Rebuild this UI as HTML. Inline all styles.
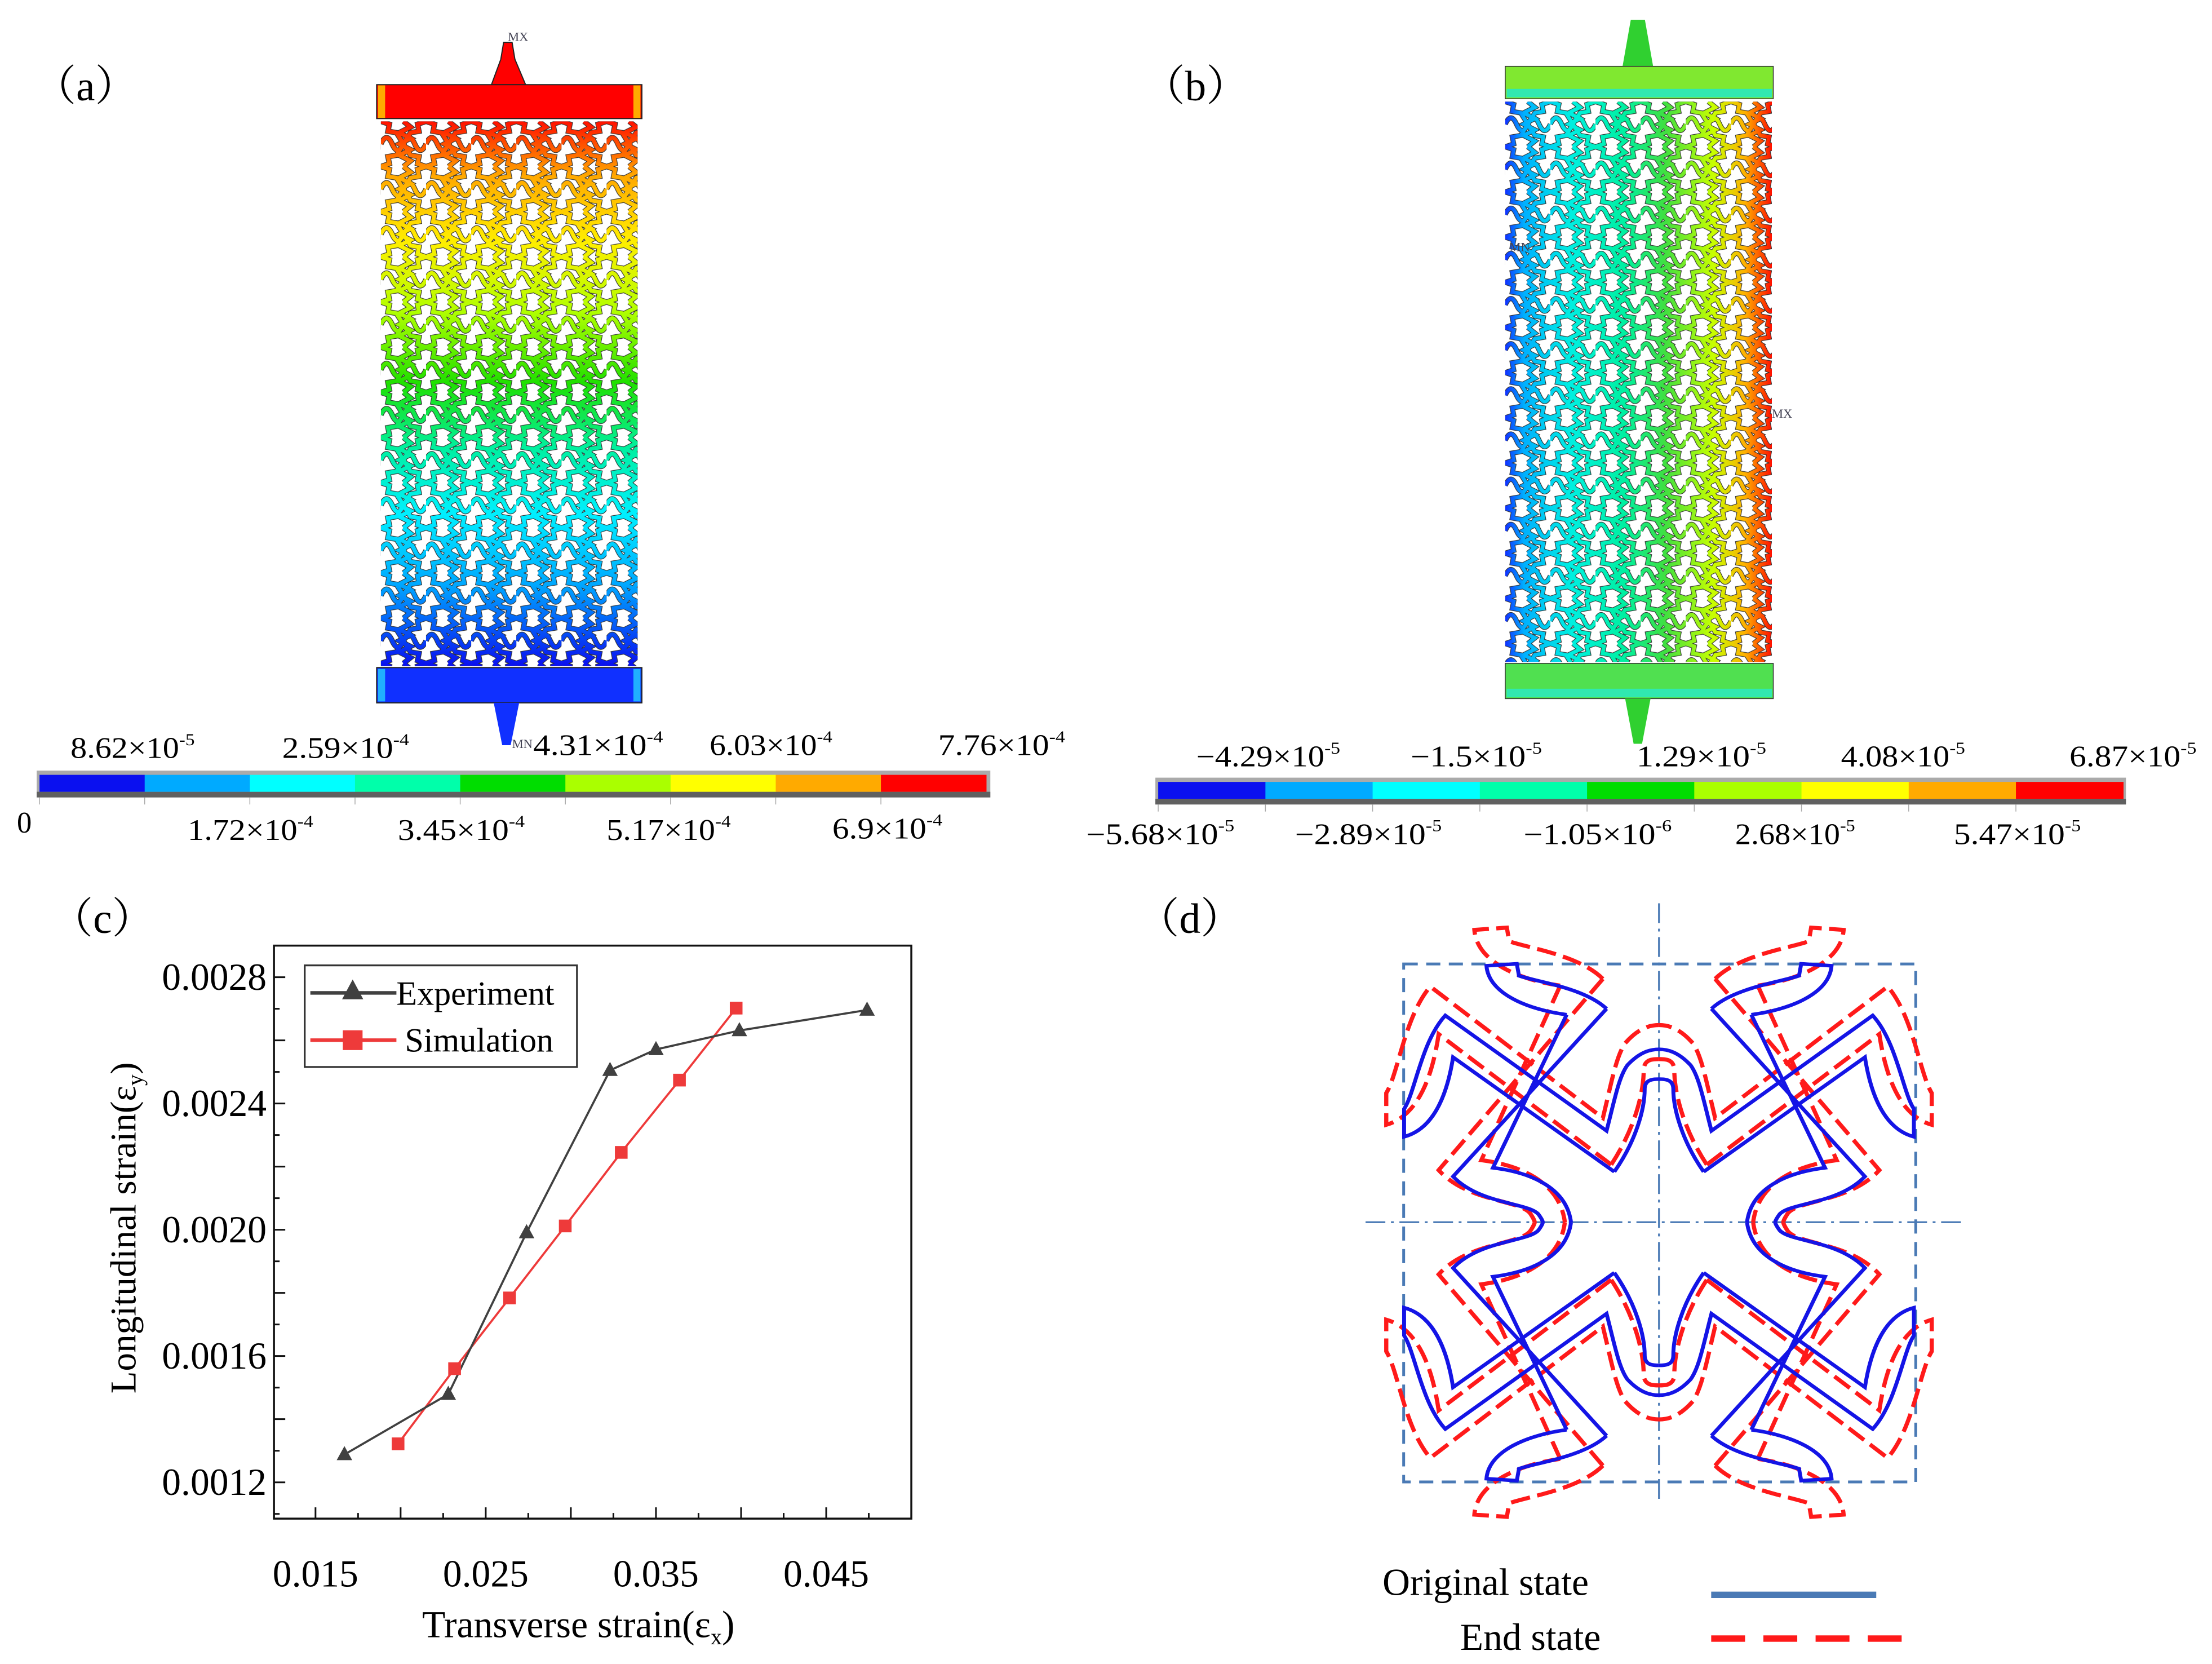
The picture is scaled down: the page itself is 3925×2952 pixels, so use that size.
<!DOCTYPE html>
<html><head><meta charset="utf-8">
<style>
html,body{margin:0;padding:0;background:#fff;}
svg{display:block;}
text{font-family:"Liberation Serif","Noto Serif CJK SC",serif;}
</style></head>
<body>
<svg id="fig" width="3925" height="2952" viewBox="0 0 1568 1179" preserveAspectRatio="none" xmlns="http://www.w3.org/2000/svg">
<defs>
  <linearGradient id="gradA" x1="0" y1="86" x2="0" y2="472" gradientUnits="userSpaceOnUse">
    <stop offset="0" stop-color="#ff1000"/>
    <stop offset="0.1" stop-color="#ffa800"/>
    <stop offset="0.22" stop-color="#ffee00"/>
    <stop offset="0.35" stop-color="#b0ff00"/>
    <stop offset="0.48" stop-color="#20e000"/>
    <stop offset="0.6" stop-color="#00f0a0"/>
    <stop offset="0.72" stop-color="#00f0ff"/>
    <stop offset="0.85" stop-color="#00a8ff"/>
    <stop offset="1" stop-color="#0a10f0"/>
  </linearGradient>
  <linearGradient id="gradB" x1="1067" y1="0" x2="1256" y2="0" gradientUnits="userSpaceOnUse">
    <stop offset="0" stop-color="#1030ff"/>
    <stop offset="0.07" stop-color="#00b0ff"/>
    <stop offset="0.25" stop-color="#00f0e0"/>
    <stop offset="0.45" stop-color="#00f0a0"/>
    <stop offset="0.6" stop-color="#40e040"/>
    <stop offset="0.78" stop-color="#c8ff00"/>
    <stop offset="0.9" stop-color="#ffb000"/>
    <stop offset="1" stop-color="#ff1000"/>
  </linearGradient>
  <pattern id="patKa" x="270" y="86" width="32" height="32" patternUnits="userSpaceOnUse">
    <path d="M0,16 q4,-9 8,0 t8,0 t8,0 t8,0 M16,0 l5,4 l-8,4 l8,4 l-8,4 l8,4 l-8,4 l8,4 l-5,4 M0,0 l6,2 l-1,5 l6,1 l5,8 M32,0 l-6,2 l1,5 l-6,1 l-5,8 M0,32 l6,-2 l-1,-5 l6,-1 l5,-8 M32,32 l-6,-2 l1,-5 l-6,-1 l-5,-8" fill="none" stroke="#303030" stroke-width="3.8"/>
  </pattern>
  <pattern id="patWa" x="270" y="86" width="32" height="32" patternUnits="userSpaceOnUse">
    <path d="M0,16 q4,-9 8,0 t8,0 t8,0 t8,0 M16,0 l5,4 l-8,4 l8,4 l-8,4 l8,4 l-8,4 l8,4 l-5,4 M0,0 l6,2 l-1,5 l6,1 l5,8 M32,0 l-6,2 l1,5 l-6,1 l-5,8 M0,32 l6,-2 l-1,-5 l6,-1 l5,-8 M32,32 l-6,-2 l1,-5 l-6,-1 l-5,-8" fill="none" stroke="#fff" stroke-width="2.9"/>
  </pattern>
  <pattern id="patKb" x="1067" y="72" width="32" height="32" patternUnits="userSpaceOnUse">
    <path d="M0,16 q4,-9 8,0 t8,0 t8,0 t8,0 M16,0 l5,4 l-8,4 l8,4 l-8,4 l8,4 l-8,4 l8,4 l-5,4 M0,0 l6,2 l-1,5 l6,1 l5,8 M32,0 l-6,2 l1,5 l-6,1 l-5,8 M0,32 l6,-2 l-1,-5 l6,-1 l5,-8 M32,32 l-6,-2 l1,-5 l-6,-1 l-5,-8" fill="none" stroke="#303030" stroke-width="3.6"/>
  </pattern>
  <pattern id="patWb" x="1067" y="72" width="32" height="32" patternUnits="userSpaceOnUse">
    <path d="M0,16 q4,-9 8,0 t8,0 t8,0 t8,0 M16,0 l5,4 l-8,4 l8,4 l-8,4 l8,4 l-8,4 l8,4 l-5,4 M0,0 l6,2 l-1,5 l6,1 l5,8 M32,0 l-6,2 l1,5 l-6,1 l-5,8 M0,32 l6,-2 l-1,-5 l6,-1 l5,-8 M32,32 l-6,-2 l1,-5 l-6,-1 l-5,-8" fill="none" stroke="#fff" stroke-width="2.7"/>
  </pattern>
  <mask id="mA" maskUnits="userSpaceOnUse" x="0" y="0" width="1568" height="1179"><rect x="270" y="86" width="182" height="386" fill="url(#patWa)"/></mask>
  <mask id="mB" maskUnits="userSpaceOnUse" x="0" y="0" width="1568" height="1179"><rect x="1067" y="72" width="189" height="397" fill="url(#patWb)"/></mask>
</defs>
<rect width="1568" height="1179" fill="#fff"/>

<text x="24" y="71" font-size="30">（a）</text>
<text x="810" y="71" font-size="30">（b）</text>
<text x="36" y="661" font-size="30">（c）</text>
<text x="806" y="661" font-size="30">（d）</text>

<g>
  <rect x="270" y="86" width="182" height="386" fill="url(#patKa)"/>
  <rect x="270" y="86" width="182" height="386" fill="url(#gradA)" mask="url(#mA)"/>
  <polygon points="348,61 355,42 357,30 363,30 365,42 373,61" fill="#ff0000" stroke="#222" stroke-width="0.8"/>
  <rect x="267" y="60" width="188" height="24" fill="#ff0000" stroke="#222" stroke-width="0.8"/>
  <rect x="268" y="60.5" width="5" height="23" fill="#ffaa00"/>
  <rect x="449" y="60.5" width="5" height="23" fill="#ffaa00"/>
  <text x="360" y="29" font-size="9" fill="#445">MX</text>
  <rect x="267" y="473" width="188" height="25" fill="#1030ff" stroke="#222" stroke-width="0.8"/>
  <rect x="268" y="474" width="5" height="23" fill="#20b0ff"/>
  <rect x="449" y="474" width="5" height="23" fill="#20b0ff"/>
  <polygon points="350,498 356,528 362,528 368,498" fill="#1030ff"/>
  <text x="363" y="530" font-size="9" fill="#445">MN</text>
</g>

<g>
  <rect x="26" y="546" width="676" height="19" fill="#aaa"/>
  <rect x="26" y="561" width="676" height="4" fill="#606060"/>
  <g id="cbA"></g>
  <g font-size="21">
    <text x="50" y="537" textLength="88" lengthAdjust="spacingAndGlyphs">8.62×10<tspan font-size="12" dy="-9">-5</tspan></text>
    <text x="200" y="537" textLength="90" lengthAdjust="spacingAndGlyphs">2.59×10<tspan font-size="12" dy="-9">-4</tspan></text>
    <text x="378" y="535" textLength="92" lengthAdjust="spacingAndGlyphs">4.31×10<tspan font-size="12" dy="-9">-4</tspan></text>
    <text x="503" y="535" textLength="87" lengthAdjust="spacingAndGlyphs">6.03×10<tspan font-size="12" dy="-9">-4</tspan></text>
    <text x="665" y="535" textLength="90" lengthAdjust="spacingAndGlyphs">7.76×10<tspan font-size="12" dy="-9">-4</tspan></text>
    <text x="12" y="590">0</text>
    <text x="133" y="595" textLength="89" lengthAdjust="spacingAndGlyphs">1.72×10<tspan font-size="12" dy="-9">-4</tspan></text>
    <text x="282" y="595" textLength="90" lengthAdjust="spacingAndGlyphs">3.45×10<tspan font-size="12" dy="-9">-4</tspan></text>
    <text x="430" y="595" textLength="88" lengthAdjust="spacingAndGlyphs">5.17×10<tspan font-size="12" dy="-9">-4</tspan></text>
    <text x="590" y="594" textLength="78" lengthAdjust="spacingAndGlyphs">6.9×10<tspan font-size="12" dy="-9">-4</tspan></text>
  </g>
</g>

<g>
  <rect x="1067" y="72" width="189" height="397" fill="url(#patKb)"/>
  <rect x="1067" y="72" width="189" height="397" fill="url(#gradB)" mask="url(#mB)"/>
  <polygon points="1150,48 1156,14 1166,14 1172,48" fill="#30d030"/>
  <rect x="1067" y="47" width="190" height="23" fill="#80e830" stroke="#333" stroke-width="0.6"/>
  <rect x="1068" y="63" width="188" height="6" fill="#30e8b0"/>
  <rect x="1067" y="470" width="190" height="25" fill="#50e050" stroke="#333" stroke-width="0.6"/>
  <rect x="1068" y="488" width="188" height="6" fill="#30e8b0"/>
  <polygon points="1152,495 1158,527 1164,527 1170,495" fill="#30d030"/>
  <text x="1256" y="296" font-size="9" fill="#445">MX</text>
  <text x="1070" y="178" font-size="9" fill="#445">MN</text>
</g>

<g>
  <rect x="819" y="551" width="688" height="19" fill="#aaa"/>
  <rect x="819" y="566" width="688" height="4" fill="#606060"/>
  <g id="cbB"></g>
  <g font-size="21">
    <text x="848" y="543" textLength="102" lengthAdjust="spacingAndGlyphs">−4.29×10<tspan font-size="12" dy="-9">-5</tspan></text>
    <text x="1000" y="543" textLength="93" lengthAdjust="spacingAndGlyphs">−1.5×10<tspan font-size="12" dy="-9">-5</tspan></text>
    <text x="1160" y="543" textLength="92" lengthAdjust="spacingAndGlyphs">1.29×10<tspan font-size="12" dy="-9">-5</tspan></text>
    <text x="1305" y="543" textLength="88" lengthAdjust="spacingAndGlyphs">4.08×10<tspan font-size="12" dy="-9">-5</tspan></text>
    <text x="1467" y="543" textLength="90" lengthAdjust="spacingAndGlyphs">6.87×10<tspan font-size="12" dy="-9">-5</tspan></text>
    <text x="770" y="598" textLength="105" lengthAdjust="spacingAndGlyphs">−5.68×10<tspan font-size="12" dy="-9">-5</tspan></text>
    <text x="918" y="598" textLength="104" lengthAdjust="spacingAndGlyphs">−2.89×10<tspan font-size="12" dy="-9">-5</tspan></text>
    <text x="1080" y="598" textLength="105" lengthAdjust="spacingAndGlyphs">−1.05×10<tspan font-size="12" dy="-9">-6</tspan></text>
    <text x="1230" y="598" textLength="85" lengthAdjust="spacingAndGlyphs">2.68×10<tspan font-size="12" dy="-9">-5</tspan></text>
    <text x="1385" y="598" textLength="90" lengthAdjust="spacingAndGlyphs">5.47×10<tspan font-size="12" dy="-9">-5</tspan></text>
  </g>
</g>

<g id="chartC">
  <g id="plotC"></g>
  <text x="410" y="1160" font-size="27" text-anchor="middle">Transverse strain(ε<tspan font-size="16" dy="5">x</tspan><tspan dy="-5">)</tspan></text>
  <text transform="translate(96,870) rotate(-90)" font-size="26" text-anchor="middle">Longitudinal strain(ε<tspan font-size="16" dy="5">y</tspan><tspan dy="-5">)</tspan></text>
  <g>
    <rect x="216" y="684" width="193" height="72" fill="#fff" stroke="#333" stroke-width="1.3"/>
    <g>
      <line x1="220" y1="703.5" x2="281" y2="703.5" stroke="#404040" stroke-width="2.5"/>
      <polygon points="250,694 257.5,708 242.5,708" fill="#404040"/>
      <text x="281" y="712" font-size="24">Experiment</text>
    </g>
    <g>
      <line x1="220" y1="737" x2="281" y2="737" stroke="#ee3a3a" stroke-width="2.5"/>
      <rect x="243" y="730" width="14" height="14" fill="#ee3a3a"/>
      <text x="287" y="745" font-size="24">Simulation</text>
    </g>
  </g>
</g>

<g>
  <rect x="995" y="683" width="363" height="367" fill="none" stroke="#4a7ab5" stroke-width="2" stroke-dasharray="10,6"/>
  <line x1="1176" y1="640" x2="1176" y2="1063" stroke="#4a7ab5" stroke-width="1.3" stroke-dasharray="14,4,2,4"/>
  <line x1="968" y1="866" x2="1392" y2="866" stroke="#4a7ab5" stroke-width="1.3" stroke-dasharray="14,4,2,4"/>
  <g transform="translate(1176,866) scale(0.3073,0.2817) translate(-733,-805)">
    <defs>
      <g id="quadB">
        <path d="M630,678 L258,390 C245,480 215,570 145,590 L145,520 C170,480 185,350 240,285 L612,575 C630,500 640,440 660,410 C690,375 715,370 733,370 M630,678 C680,600 700,520 700,470 C700,445 720,445 733,445 M612,268 L258,690 C320,760 430,755 455,785 C465,800 465,805 465,805 M520,283 L350,668 C440,680 520,720 530,805 M612,268 C560,215 450,200 410,185 L405,155 L335,160 C340,230 430,270 520,283" fill="none"/>
      </g>
      <g id="quadBlue" stroke="#1414e6" stroke-width="9"><use href="#quadB"/></g>
      <g id="quadRed" stroke="#ff1a1a" stroke-width="9" stroke-dasharray="42,16" transform="translate(733,805) scale(1.07,1.14) translate(-733,-805)"><use href="#quadB"/></g>
    </defs>
    <g>
      <use href="#quadRed"/>
      <use href="#quadRed" transform="translate(1466,0) scale(-1,1)"/>
      <use href="#quadRed" transform="translate(0,1610) scale(1,-1)"/>
      <use href="#quadRed" transform="translate(1466,1610) scale(-1,-1)"/>
    </g>
    <g>
      <use href="#quadBlue"/>
      <use href="#quadBlue" transform="translate(1466,0) scale(-1,1)"/>
      <use href="#quadBlue" transform="translate(0,1610) scale(1,-1)"/>
      <use href="#quadBlue" transform="translate(1466,1610) scale(-1,-1)"/>
    </g>
  </g>
  <g>
    <text x="980" y="1130" font-size="27">Original state</text>
    <line x1="1213" y1="1130" x2="1330" y2="1130" stroke="#4a7ab5" stroke-width="4.5"/>
    <text x="1035" y="1169" font-size="27">End state</text>
    <line x1="1213" y1="1161" x2="1352" y2="1161" stroke="#ff1a1a" stroke-width="4.5" stroke-dasharray="24,13"/>
  </g>
</g>

<script>
const expX = [0.0167, 0.0228, 0.0274, 0.0323, 0.0350, 0.0399, 0.0474];
const expY = [0.001288, 0.001479, 0.001991, 0.002505, 0.002571, 0.002631, 0.002696];
const simX = [0.01985, 0.02317, 0.0264, 0.02967, 0.03296, 0.03638, 0.03971];
const simY = [0.001322, 0.00156, 0.001784, 0.002012, 0.002245, 0.002474, 0.002702];
const xTickVals = [0.015, 0.025, 0.035, 0.045];
const xTickLabels = ["0.015", "0.025", "0.035", "0.045"];
const yTickVals = [0.0012, 0.0016, 0.0020, 0.0024, 0.0028];
const yTickLabels = ["0.0012", "0.0016", "0.0020", "0.0024", "0.0028"];
const cbColors = ["#0a10f0", "#00aaff", "#00ffff", "#00ffaa", "#00dd00", "#aaff00", "#ffff00", "#ffaa00", "#ff0000"];

const NS = "http://www.w3.org/2000/svg";
const PL = 194.2, PR = 646, PT = 670, PB = 1076;
const XMIN = 0.01256, XMAX = 0.05, YMIN = 0.001085, YMAX = 0.0029;
function sx(v){ return PL + (v - XMIN) / (XMAX - XMIN) * (PR - PL); }
function sy(v){ return PB - (v - YMIN) / (YMAX - YMIN) * (PB - PT); }
function mk(tag, attrs, parent){
  const e = document.createElementNS(NS, tag);
  for (const k in attrs) e.setAttribute(k, attrs[k]);
  parent.appendChild(e);
  return e;
}
const plot = document.getElementById("plotC");

function drawCB(id, x0, x1, y, h){
  const g = document.getElementById(id);
  const w = (x1 - x0) / cbColors.length;
  cbColors.forEach((c, i) => {
    const r = mk("rect", {x: x0 + i*w, y: y, width: w + 0.3, height: h, fill: c}, g);
    
    
    mk("line", {x1: x0 + i*w, y1: y + h + 4, x2: x0 + i*w, y2: y + h + 9, stroke: "#aaa", "stroke-width": 0.6}, g);
  });
}
drawCB("cbA", 28, 699, 549, 12);
drawCB("cbB", 821, 1505, 554, 12);

const frame = mk("rect", {x: PL, y: PT, width: PR - PL, height: PB - PT, fill: "none", stroke: "#111", "stroke-width": 1.4}, plot);



for (let v = 0.0125; v < XMAX + 1e-9; v += 0.0025) {
  const vv = Math.round(v * 10000) / 10000;
  const major = Math.abs(Math.round(vv / 0.005) * 0.005 - vv) < 1e-7;
  const x = sx(vv);
  if (x < PL + 1 || x > PR - 1) continue;
  const t = mk("line", {x1: x, y1: PB, x2: x, y2: PB - (major ? 8 : 4), stroke: "#111", "stroke-width": 1.2}, plot);
  
  
}
xTickVals.forEach((v, i) => {
  const t = mk("text", {x: sx(v), y: 1124, "font-size": 27, "text-anchor": "middle"}, plot);
  t.textContent = xTickLabels[i];
  
  
});
for (let k = 11; k <= 29; k++) {
  const v = k * 0.0001;
  const major = k % 2 === 0;
  const y = sy(v);
  if (y < PT + 1 || y > PB - 1) continue;
  const t = mk("line", {x1: PL, y1: y, x2: PL + (major ? 8 : 4), y2: y, stroke: "#111", "stroke-width": 1.2}, plot);
  
  
}
yTickVals.forEach((v, i) => {
  const t = mk("text", {x: 189, y: sy(v) + 9, "font-size": 27, "text-anchor": "end"}, plot);
  t.textContent = yTickLabels[i];
  
  
});

const simLine = mk("polyline", {points: simX.map((x, i) => sx(x) + "," + sy(simY[i])).join(" "), fill: "none", stroke: "#ee3a3a", "stroke-width": 1.5}, plot);


const expLine = mk("polyline", {points: expX.map((x, i) => sx(x) + "," + sy(expY[i])).join(" "), fill: "none", stroke: "#404040", "stroke-width": 1.5}, plot);


simX.forEach((x, i) => {
  const cx = sx(x), cy = sy(simY[i]);
  const m = mk("rect", {x: cx - 4.5, y: cy - 4.5, width: 9, height: 9, fill: "#ee3a3a"}, plot);
  
  
});
expX.forEach((x, i) => {
  const cx = sx(x), cy = sy(expY[i]);
  const m = mk("polygon", {points: (cx) + "," + (cy - 6) + " " + (cx + 5.5) + "," + (cy + 4) + " " + (cx - 5.5) + "," + (cy + 4), fill: "#404040"}, plot);
  
  
});
</script>
</svg>
</body></html>
